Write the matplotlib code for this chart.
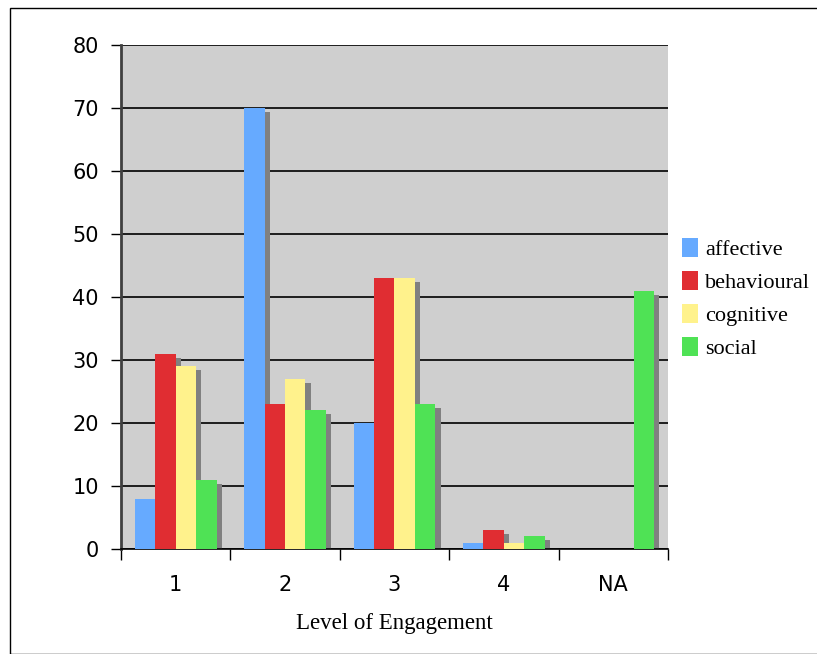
import numpy as np
import matplotlib.pyplot as plt
from matplotlib.patches import Rectangle

plt.rcParams['font.family'] = ['DejaVu Sans']

levels = ['1', '2', '3', '4', 'NA']
series = ['affective', 'behavioural', 'cognitive', 'social']
affective = [8, 70, 20, 1, 0]
behavioural = [31, 23, 43, 3, 0]
cognitive = [29, 27, 43, 1, 0]
social = [11, 22, 23, 2, 41]
colors = ['#66AAFF', '#E02D32', '#FFF28C', '#4FE255']

fig = plt.figure(figsize=(8.17, 6.54), dpi=100)
ax = fig.add_axes([0.148, 0.1606, 0.6696, 0.7706])
ax.set_facecolor('#CFCFCF')

x = np.arange(len(levels))
width = 0.187
dx, dy = 0.047, 0.65  # drop shadow offset

for i, (name, vals) in enumerate(zip(series, [affective, behavioural, cognitive, social])):
    pos = x + (i - 1.5) * width
    vals = np.array(vals, dtype=float)
    shadow = np.clip(vals - dy, 0, None)
    ax.bar(pos + dx, shadow, width, color='#808080', zorder=2)
    ax.bar(pos, vals, width, color=colors[i], label=name, zorder=3)

ax.set_xlim(-0.5, len(levels) - 0.5)
ax.set_ylim(0, 80)
ax.set_yticks(range(0, 81, 10))
ax.yaxis.grid(True, color='black', linewidth=1.2, zorder=1)
ax.set_axisbelow(True)

ax.set_xticks(x)
ax.set_xticklabels(levels)
ax.set_xticks(np.arange(-0.5, len(levels)), minor=True)
ax.tick_params(axis='x', which='major', length=0, pad=19, labelsize=15)
ax.tick_params(axis='x', which='minor', length=8, width=1)
ax.tick_params(axis='y', length=7, width=1, labelsize=15, pad=9)

for side in ['top', 'right']:
    ax.spines[side].set_visible(False)
ax.spines['left'].set_color('#404040')
ax.spines['left'].set_linewidth(2)
ax.spines['bottom'].set_linewidth(1.2)

ax.set_xlabel('Level of Engagement', family='Liberation Serif', fontsize=16.5, labelpad=13)

fig.legend(loc='center left', bbox_to_anchor=(0.81, 0.543), frameon=False,
           prop={'family': 'Liberation Serif', 'size': 16}, handlelength=0.75,
           handleheight=0.9, handletextpad=0.3, labelspacing=0.5)

fig.patches.append(Rectangle((10 / 817, 0), 1, 1 - 8 / 654, transform=fig.transFigure,
                             fill=False, edgecolor='black', linewidth=1))

fig.savefig('out.png', dpi=100)
